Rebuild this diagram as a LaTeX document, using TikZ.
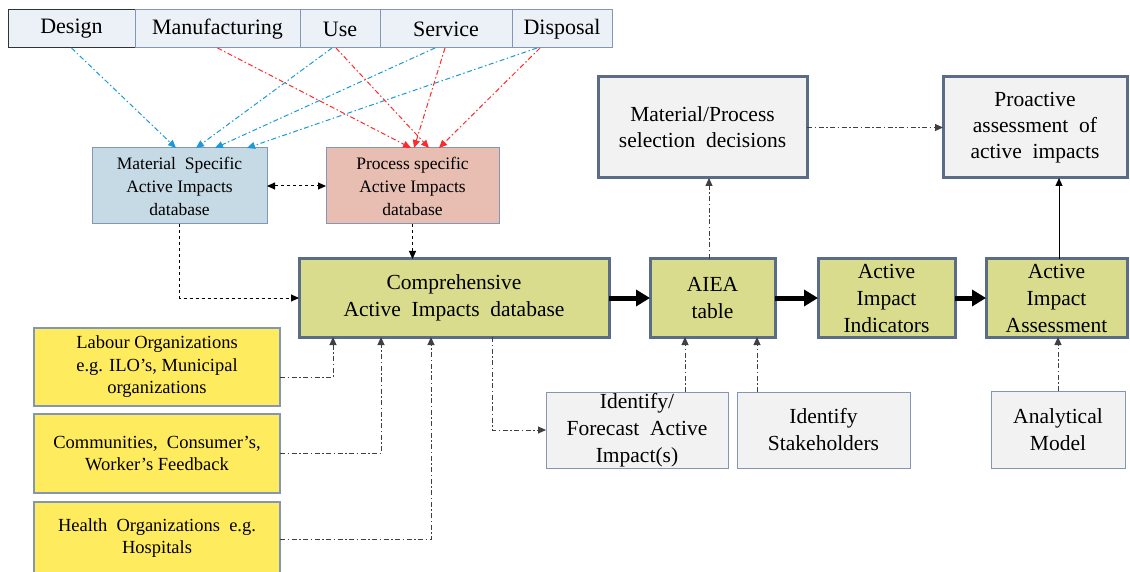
\documentclass[tikz,border=0pt]{standalone}
\usepackage{fontspec}
\setmainfont{Liberation Serif}
\usetikzlibrary{arrows.meta,calc}

\definecolor{phasefill}{HTML}{EBF1F7}
\definecolor{phaseline}{HTML}{8496B6}
\definecolor{matfill}{HTML}{C6DAE6}
\definecolor{procfill}{HTML}{E8BEB2}
\definecolor{greenfill}{HTML}{D8DC8C}
\definecolor{darkline}{HTML}{5B6C88}
\definecolor{grayfill}{HTML}{F2F2F2}
\definecolor{yellowfill}{HTML}{FFEC5E}
\definecolor{bluearrow}{HTML}{1A9AD8}
\definecolor{redarrow}{HTML}{FF2A2A}
\definecolor{linkgray}{HTML}{404040}

\tikzset{
  base/.style={anchor=north west, inner sep=0pt, outer sep=0pt, align=center},
  phase/.style={base, draw=phaseline, fill=phasefill, line width=1pt,
    font=\fontsize{22}{26}\selectfont},
  dbbox/.style={base, draw=phaseline, line width=1pt,
    font=\fontsize{17.5}{23}\selectfont},
  mainbox/.style={base, draw=darkline, fill=greenfill, line width=3pt,
    font=\fontsize{21.5}{27}\selectfont},
  outbox/.style={base, draw=darkline, fill=grayfill, line width=3pt,
    font=\fontsize{21.5}{26}\selectfont},
  inbox/.style={base, draw=phaseline, fill=grayfill, line width=1pt,
    font=\fontsize{21.5}{27}\selectfont},
  srcbox/.style={base, draw=phaseline, fill=yellowfill, line width=1.5pt,
    font=\fontsize{18.5}{22.5}\selectfont},
  dashdot/.style={dash pattern=on 5pt off 2.5pt on 1.5pt off 2.5pt},
  tip/.style={-{Triangle[length=8pt,width=7pt]}},
  bluelink/.style={dashdot, tip, draw=bluearrow, line width=1pt},
  redlink/.style={dashdot, tip, draw=redarrow, line width=1pt},
  graylink/.style={dashdot, tip, draw=linkgray, line width=1pt},
  dashlink/.style={dashed, tip, draw=black, line width=1pt},
  flow/.style={-{Triangle[length=14pt,width=16pt]}, line width=5pt, draw=black},
}

\begin{document}
\begin{tikzpicture}[x=1pt, y=-1pt]
\useasboundingbox (0,0) rectangle (1130,572);

% life-cycle phases
\node[phase, draw=black!80, minimum width=127pt, minimum height=38pt] (design) at (8,10) {Design};
\node[phase, minimum width=165pt, minimum height=38pt] (manu) at (135,10) {Manufacturing};
\node[phase, minimum width=80pt, minimum height=38pt] (use) at (300,10) {Use};
\node[phase, minimum width=132pt, minimum height=38pt] (serv) at (380,10) {Service};
\node[phase, minimum width=100pt, minimum height=38pt] (disp) at (512,10) {Disposal};

% databases
\node[dbbox, fill=matfill, minimum width=175pt, minimum height=76pt] (mat) at (92,148)
  {Material\ \ Specific\\Active Impacts\\database};
\node[dbbox, fill=procfill, minimum width=173pt, minimum height=76pt] (proc) at (326,148)
  {Process specific\\Active Impacts\\database};

% main chain
\node[mainbox, minimum width=310pt, minimum height=78pt] (comp) at (299,259)
  {Comprehensive\\Active\ \ Impacts\ \ database};
\node[mainbox, minimum width=125pt, minimum height=78pt] (aiea) at (650,259) {AIEA\\table};
\node[mainbox, minimum width=137pt, minimum height=78pt] (ind) at (818,259)
  {Active\\Impact\\Indicators};
\node[mainbox, minimum width=141pt, minimum height=78pt] (ass) at (986,259)
  {Active\\Impact\\Assessment};

% outputs
\node[outbox, minimum width=209pt, minimum height=101pt] (matproc) at (598,77)
  {Material/Process\\selection\ \ decisions};
\node[outbox, minimum width=184pt, minimum height=101pt] (pro) at (943,77)
  {Proactive\\assessment\ \ of\\active\ \ impacts};

% inputs
\node[inbox, minimum width=182pt, minimum height=76pt] (ident) at (546,392)
  {Identify/\\Forecast\ \ Active\\Impact(s)};
\node[inbox, minimum width=173pt, minimum height=76pt] (stake) at (737,392)
  {Identify\\Stakeholders};
\node[inbox, minimum width=134pt, minimum height=77pt] (model) at (991,391)
  {Analytical\\Model};

% feedback sources
\node[srcbox, minimum width=246pt, minimum height=78pt] (lab) at (34,328)
  {Labour Organizations\\e.g. ILO’s, Municipal\\organizations};
\node[srcbox, minimum width=246pt, minimum height=79pt] (com) at (34,414)
  {Communities,\ \ Consumer’s,\\Worker’s Feedback};
\node[srcbox, minimum width=246pt, minimum height=72pt] (hea) at (34,502)
  {Health\ \ Organizations\ \ e.g.\\Hospitals};

% phases -> material specific database
\draw[bluelink] (design.south) -- ($(mat.north west)+(84,0)$);
\draw[bluelink] ($(use.south)+(-8,0)$) -- ($(mat.north west)+(104,0)$);
\draw[bluelink] ($(serv.south)+(-11,0)$) -- ($(mat.north west)+(123,0)$);
\draw[bluelink] ($(disp.south)+(-25,0)$) -- ($(mat.north west)+(155,0)$);

% phases -> process specific database
\draw[redlink] (manu.south) -- ($(proc.north west)+(85,0)$);
\draw[redlink] ($(use.south)+(-4,0)$) -- ($(proc.north west)+(103,0)$);
\draw[redlink] ($(serv.south)+(-1,0)$) -- ($(proc.north west)+(88,0)$);
\draw[redlink] ($(disp.south)+(-22,0)$) -- ($(proc.north west)+(113,0)$);

% database links
\draw[dashed, {Triangle[length=8pt,width=7pt]}-{Triangle[length=8pt,width=7pt]}, line width=1pt]
  (mat.east) -- (proc.west);
\draw[dashlink] (mat.south) |- (comp.west);
\draw[dashlink] (proc.south) -- (proc.south |- comp.north);

% main flow
\draw[flow] (comp.east) -- (aiea.west);
\draw[flow] (aiea.east) -- (ind.west);
\draw[flow] (ind.east) -- (ass.west);

% feedback sources -> comprehensive database
\draw[graylink] ($(lab.east)+(0,10)$) -| ($(comp.south west)+(34,0)$);
\draw[graylink] (com.east) -| ($(comp.south west)+(82,0)$);
\draw[graylink] ($(hea.east)+(0,1.5)$) -| ($(comp.south west)+(132,0)$);

% comprehensive database -> forecast
\draw[graylink] ($(comp.south west)+(193,0)$) |- (ident.west);

% inputs -> chain
\draw[graylink] ($(ident.north west)+(139,0)$) -- ($(aiea.south west)+(35,0)$);
\draw[graylink] ($(stake.north west)+(20,0)$) -- ($(aiea.south west)+(107,0)$);
\draw[graylink] ($(model.north west)+(67,0)$) -- ($(ass.south west)+(72,0)$);

% chain -> outputs
\draw[graylink] ($(aiea.north west)+(59,0)$) -- ($(matproc.south west)+(111,0)$);
\draw[graylink] (matproc.east) -- (pro.west);
\draw[tip, line width=1pt] ($(ass.north west)+(73,0)$) -- ($(pro.south west)+(116,0)$);
\end{tikzpicture}
\end{document}
